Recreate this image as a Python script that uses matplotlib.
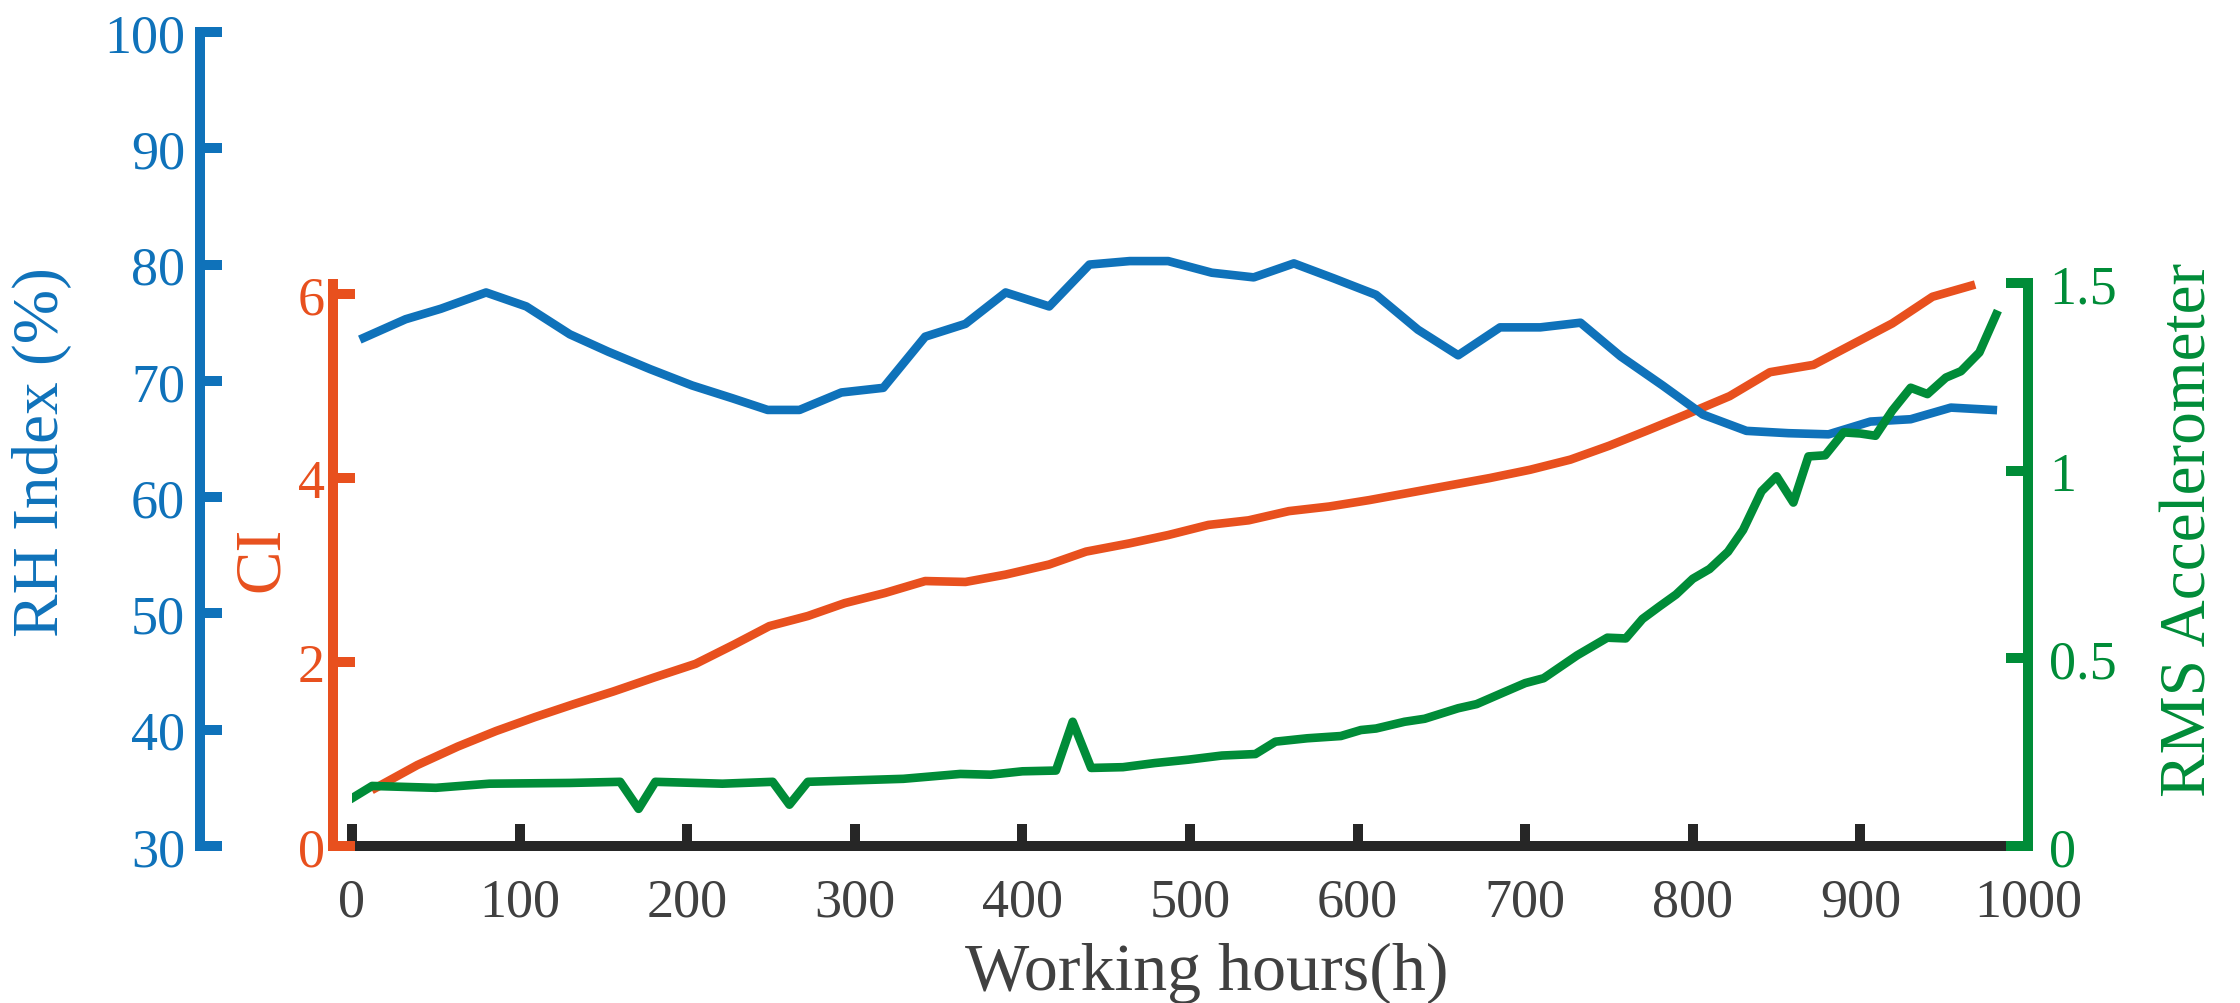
import matplotlib
matplotlib.use("Agg")
import matplotlib.pyplot as plt

BLUE, ORANGE, GREEN = "#0F72BA", "#E8501E", "#008C38"
AXIS_INK, TICK_INK = "#262626", "#404040"

# RH index (%)
RH_X = [7, 32, 53, 80, 104, 130, 153, 178, 203, 227, 248, 267, 292, 317, 342,
        366, 390, 416, 440, 464, 487, 513, 538, 562, 586, 611, 636, 660, 685,
        709, 733, 757, 782, 806, 832, 857, 881, 906, 930, 954, 979]
RH_Y = [73.7, 75.3, 76.2, 77.6, 76.4, 74.0, 72.5, 71.0, 69.6, 68.5, 67.5, 67.5,
        69.0, 69.4, 73.8, 74.9, 77.6, 76.4, 80.0, 80.3, 80.3, 79.3, 78.9, 80.1,
        78.8, 77.4, 74.4, 72.2, 74.6, 74.6, 75.0, 72.1, 69.6, 67.1, 65.7, 65.5,
        65.4, 66.5, 66.7, 67.7, 67.5]

# CI
CI_X = [14, 39, 63, 86, 109, 132, 156, 180, 205, 228, 249, 272, 294, 318, 342,
        366, 390, 416, 438, 464, 487, 511, 535, 559, 583, 607, 631, 655, 679,
        703, 727, 750, 772, 796, 822, 846, 872, 896, 919, 943, 966]
CI_Y = [0.63, 0.88, 1.08, 1.25, 1.40, 1.54, 1.68, 1.83, 1.98, 2.19, 2.39, 2.50,
        2.64, 2.75, 2.88, 2.87, 2.95, 3.06, 3.20, 3.29, 3.38, 3.49, 3.54, 3.64,
        3.69, 3.76, 3.84, 3.92, 4.00, 4.09, 4.20, 4.35, 4.51, 4.69, 4.89, 5.15,
        5.23, 5.46, 5.68, 5.97, 6.09]

# RMS accelerometer
RMS_X = [1, 12, 50, 82, 130, 160, 171, 181, 221, 251, 261, 272, 329, 363, 381,
         400, 420, 430, 441, 460, 479, 499, 519, 539, 551, 570, 590, 602, 611,
         628, 640, 660, 671, 687, 700, 711, 731, 749, 760, 770, 780, 790, 800,
         810, 821, 830, 841, 850, 860, 869, 879, 890, 900, 909, 919, 930, 940,
         951, 960, 971, 981]
RMS_Y = [0.13, 0.16, 0.155, 0.166, 0.168, 0.171, 0.099, 0.171, 0.166, 0.171,
         0.110, 0.171, 0.179, 0.192, 0.190, 0.199, 0.201, 0.331, 0.208, 0.210,
         0.221, 0.230, 0.241, 0.245, 0.278, 0.287, 0.293, 0.309, 0.313, 0.331,
         0.339, 0.367, 0.378, 0.409, 0.434, 0.447, 0.508, 0.555, 0.553, 0.605,
         0.638, 0.670, 0.712, 0.738, 0.784, 0.842, 0.945, 0.985, 0.915, 1.038,
         1.041, 1.102, 1.099, 1.093, 1.160, 1.221, 1.204, 1.248, 1.265, 1.315,
         1.416]

X_TICKS = list(range(0, 1001, 100))
RH_TICKS = list(range(30, 101, 10))
CI_TICKS = [0, 2, 4, 6]
RMS_TICKS = [0, 0.5, 1, 1.5]
RMS_LABELS = ["0", "0.5", "1", "1.5"]

plt.rcParams["font.family"] = "Liberation Serif"
plt.rcParams["font.size"] = 19.5

W, H = 2240, 1004
SPINE_W = 3.6
LINE_W = 3.1
TICK_LEN = 8
TICK_FS = 19.5
LABEL_FS = 23.5


def px_box(left, top, right, bottom):
    return [left / W, 1 - bottom / H, (right - left) / W, (bottom - top) / H]


def bare(ax):
    ax.patch.set_visible(False)
    for s in ax.spines.values():
        s.set_visible(False)
    ax.set_xlim(0, 1000)
    ax.set_xticks([])
    ax.set_yticks([])


fig = plt.figure(figsize=(W / 200, H / 200), dpi=200)

X0, X1, BOT = 352, 2028, 847

# x axis host
ax_x = fig.add_axes(px_box(X0, 285, X1, BOT), zorder=1)
bare(ax_x)
ax_x.spines["bottom"].set_visible(True)
ax_x.spines["bottom"].set_color(AXIS_INK)
ax_x.spines["bottom"].set_linewidth(SPINE_W)
ax_x.spines["bottom"].set_capstyle("projecting")
ax_x.set_xticks(X_TICKS)
ax_x.tick_params(axis="x", direction="in", length=TICK_LEN, width=SPINE_W,
                 color=AXIS_INK, labelcolor=TICK_INK, pad=11, labelsize=TICK_FS)

# CI axis
ax_c = fig.add_axes(px_box(X0, 285, X1, BOT), zorder=2)
bare(ax_c)
ax_c.set_ylim(0, (BOT - 285) / 92)
ax_c.plot(CI_X, CI_Y, color=ORANGE, lw=LINE_W, clip_on=False)
sp = ax_c.spines["left"]
sp.set_visible(True)
sp.set_position(("axes", (333 - X0) / (X1 - X0)))
sp.set_color(ORANGE)
sp.set_linewidth(SPINE_W)
sp.set_capstyle("projecting")
ax_c.set_yticks(CI_TICKS)
ax_c.tick_params(axis="y", direction="in", length=TICK_LEN, width=SPINE_W,
                 color=ORANGE, labelcolor=ORANGE, pad=2.9, labelsize=TICK_FS)

# RH axis
ax_b = fig.add_axes(px_box(X0, 33, X1, BOT), zorder=3)
bare(ax_b)
ax_b.set_ylim(30, 100)
ax_b.plot(RH_X, RH_Y, color=BLUE, lw=LINE_W)
sp = ax_b.spines["left"]
sp.set_visible(True)
sp.set_position(("axes", (200 - X0) / (X1 - X0)))
sp.set_color(BLUE)
sp.set_linewidth(SPINE_W)
sp.set_capstyle("projecting")
ax_b.set_yticks(RH_TICKS)
ax_b.tick_params(axis="y", direction="in", length=TICK_LEN, width=SPINE_W,
                 color=BLUE, labelcolor=BLUE, pad=5.4, labelsize=TICK_FS)

# RMS axis
ax_g = fig.add_axes(px_box(X0, 284, X1, BOT), zorder=4)
bare(ax_g)
ax_g.set_ylim(0, 1.5)
ax_g.plot(RMS_X, RMS_Y, color=GREEN, lw=LINE_W)
sp = ax_g.spines["right"]
sp.set_visible(True)
sp.set_color(GREEN)
sp.set_linewidth(SPINE_W)
sp.set_capstyle("projecting")
ax_g.yaxis.tick_right()
ax_g.set_yticks(RMS_TICKS)
ax_g.set_yticklabels(RMS_LABELS)
ax_g.tick_params(axis="y", direction="in", length=TICK_LEN, width=SPINE_W,
                 color=GREEN, labelcolor=GREEN, pad=7.5, labelsize=TICK_FS)

# axis titles
lab = dict(fontsize=LABEL_FS, rotation=90, rotation_mode="anchor",
           ha="center", va="baseline")
fig.text(58 / W, 1 - 452 / H, "RH Index (%)", color=BLUE, **lab)
fig.text(278 / W, 1 - 559 / H, "CI", color=ORANGE, **lab)
fig.text(2205 / W, 1 - 530 / H, "RMS Accelerometer", color=GREEN, **lab)
fig.text(1207 / W, 1 - 990 / H, "Working hours(h)", color=TICK_INK,
         fontsize=24.5, ha="center", va="baseline")

fig.savefig("out.png", dpi=200, facecolor="white")
